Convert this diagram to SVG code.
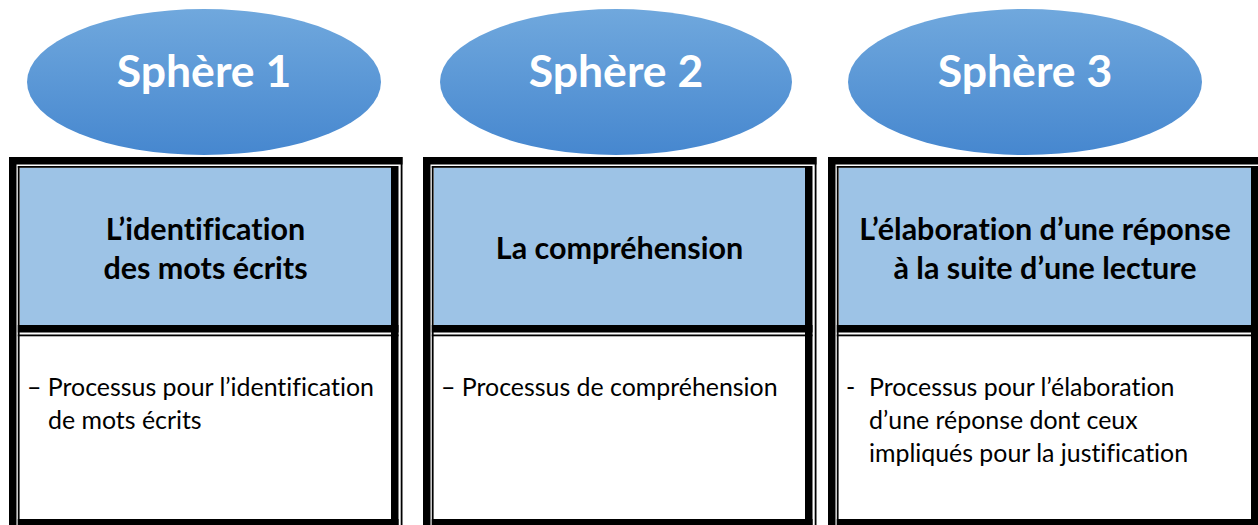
<svg xmlns="http://www.w3.org/2000/svg" width="1258" height="525" viewBox="0 0 1258 525">
  <defs>
    <linearGradient id="sphereFill" x1="0" y1="0" x2="0" y2="1">
      <stop offset="0" stop-color="#70A8DD"/>
      <stop offset="1" stop-color="#4687CF"/>
    </linearGradient>
    <style>
      text { font-variant-ligatures: none; }
      .sphere { fill: url(#sphereFill); }
      .sphere-label { font-family: Lato, "Open Sans", sans-serif; font-weight: bold; font-size: 44.5px; fill: #FFFFFF; text-anchor: middle; }
      .head { fill: #9DC3E6; }
      .body { fill: #FFFFFF; }
      .rule { fill: #000000; }
      .head-label { font-family: Lato, "Open Sans", sans-serif; font-weight: bold; font-size: 30.5px; fill: #000000; text-anchor: middle; }
      .body-label { font-family: Lato, "Open Sans", sans-serif; font-size: 24.9px; fill: #000000; }
    </style>
  </defs>
  <rect width="1258" height="525" fill="#FFFFFF"/>

  <!-- Ovals -->
  <g id="sphere-1">
    <ellipse class="sphere" cx="204" cy="82" rx="177" ry="73"/>
    <text class="sphere-label" x="204" y="87">Sphère 1</text>
  </g>
  <g id="sphere-2">
    <ellipse class="sphere" cx="616" cy="82" rx="176" ry="73"/>
    <text class="sphere-label" x="616" y="87">Sphère 2</text>
  </g>
  <g id="sphere-3">
    <ellipse class="sphere" cx="1025" cy="82" rx="177" ry="73"/>
    <text class="sphere-label" x="1025" y="87">Sphère 3</text>
  </g>

  <!-- Table 1 -->
  <g id="table-1">
    <rect class="head" x="20" y="168" width="371" height="157"/>
    <rect class="body" x="20" y="336" width="371" height="183"/>
    <!-- thick outer left / top -->
    <rect class="rule" x="9" y="157" width="7.5" height="368"/>
    <rect class="rule" x="9" y="157" width="393.5" height="7.5"/>
    <!-- thin inner left / top -->
    <rect class="rule" x="17.8" y="166" width="1.8" height="359"/>
    <rect class="rule" x="17.8" y="166" width="373.2" height="1.8"/>
    <!-- thick inner right, thin outer right -->
    <rect class="rule" x="391" y="166" width="7.5" height="359"/>
    <rect class="rule" x="400.7" y="157" width="1.8" height="368"/>
    <!-- divider and bottom -->
    <rect class="rule" x="17.8" y="325" width="380.7" height="7.5"/>
    <rect class="rule" x="17.8" y="334.5" width="380.7" height="1.8"/>
    <rect class="rule" x="17.8" y="519" width="380.7" height="6"/>
    <text class="head-label" x="205.5" y="240">L’identification</text>
    <text class="head-label" x="205.5" y="279">des mots écrits</text>
    <text class="body-label" x="27" y="396">– Processus pour l’identification</text>
    <text class="body-label" x="48" y="429">de mots écrits</text>
  </g>

  <!-- Table 2 -->
  <g id="table-2">
    <rect class="head" x="434" y="168" width="371" height="157"/>
    <rect class="body" x="434" y="336" width="371" height="183"/>
    <rect class="rule" x="423" y="157" width="7.5" height="368"/>
    <rect class="rule" x="423" y="157" width="393.5" height="7.5"/>
    <rect class="rule" x="431.8" y="166" width="1.8" height="359"/>
    <rect class="rule" x="431.8" y="166" width="373.2" height="1.8"/>
    <rect class="rule" x="805" y="166" width="7.5" height="359"/>
    <rect class="rule" x="814.7" y="157" width="1.8" height="368"/>
    <rect class="rule" x="431.8" y="325" width="380.7" height="7.5"/>
    <rect class="rule" x="431.8" y="334.5" width="380.7" height="1.8"/>
    <rect class="rule" x="431.8" y="519" width="380.7" height="6"/>
    <text class="head-label" x="619.5" y="259">La compréhension</text>
    <text class="body-label" x="441" y="396">– Processus de compréhension</text>
  </g>

  <!-- Table 3 -->
  <g id="table-3">
    <rect class="head" x="839" y="168" width="412" height="157"/>
    <rect class="body" x="839" y="336" width="412" height="183"/>
    <rect class="rule" x="828" y="157" width="7.5" height="368"/>
    <rect class="rule" x="828" y="157" width="430" height="7.5"/>
    <rect class="rule" x="836.8" y="166" width="1.8" height="359"/>
    <rect class="rule" x="836.8" y="166" width="414.2" height="1.8"/>
    <rect class="rule" x="1251" y="166" width="7" height="359"/>
    <rect class="rule" x="836.8" y="325" width="421.2" height="7.5"/>
    <rect class="rule" x="836.8" y="334.5" width="421.2" height="1.8"/>
    <rect class="rule" x="836.8" y="519" width="421.2" height="6"/>
    <text class="head-label" x="1045" y="240">L’élaboration d’une réponse</text>
    <text class="head-label" x="1045" y="279">à la suite d’une lecture</text>
    <text class="body-label" x="846" y="396">-</text>
    <text class="body-label" x="869" y="396">Processus pour l’élaboration</text>
    <text class="body-label" x="869" y="429">d’une réponse dont ceux</text>
    <text class="body-label" x="869" y="462">impliqués pour la justification</text>
  </g>
</svg>
